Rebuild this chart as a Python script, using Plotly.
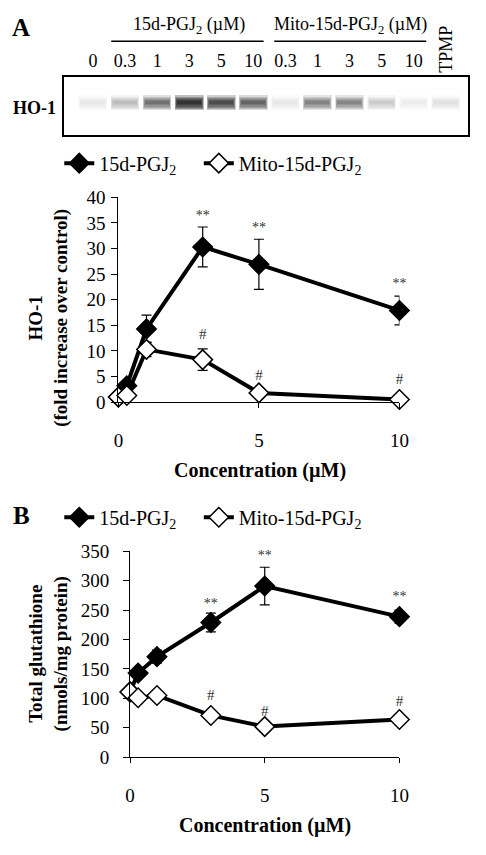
import plotly.graph_objects as go

FONT = "Liberation Serif"

# ---------------- data ----------------
conc = [0, 0.3, 1, 3, 5, 10]

# Panel A: HO-1 fold increase
ho1_15d = [1.0, 3.2, 14.3, 30.3, 26.9, 17.9]
ho1_15d_err = [0.3, 0.6, 2.7, 3.9, 4.9, 2.8]
ho1_mito = [1.0, 1.3, 10.3, 8.3, 1.8, 0.5]
ho1_mito_err = [0.3, 0.4, 1.4, 2.1, 0.3, 0.2]
ho1_star_x = [3, 5, 10]
ho1_star_y = [36.3, 34.0, 23.0]
ho1_hash_x = [3, 5, 10]
ho1_hash_y = [13.0, 5.0, 4.3]

# Panel B: total glutathione
gsh_15d = [111, 143, 171, 229, 291, 239]
gsh_15d_err = [6, 8, 11, 16, 32, 11]
gsh_mito = [111, 101, 105, 71, 52, 64]
gsh_mito_err = [5, 4, 4, 4, 3, 9]
gsh_star_x = [3, 5, 10]
gsh_star_y = [259, 342, 271]
gsh_hash_x = [3, 5, 10]
gsh_hash_y = [104, 77, 93]

# Western blot lanes
lane_labels = ["0", "0.3", "1", "3", "5", "10", "0.3", "1", "3", "5", "10", "TPMP"]
band_intensity = [0.06, 0.2, 0.5, 1.0, 0.75, 0.58, 0.06, 0.42, 0.4, 0.13, 0.05, 0.07]

fig = go.Figure()

# ---------------- blot ----------------
lanes = list(range(len(lane_labels)))
band_center = 0.55
layers = [(0.26, 0.9), (0.21, 0.87), (0.17, 0.84), (0.13, 0.81), (0.09, 0.78), (0.05, 0.75)]
for h, w in layers:
    fig.add_trace(go.Bar(
        x=lanes, y=[h] * len(lanes), base=[band_center - h / 2] * len(lanes),
        width=w,
        marker=dict(color=[f"rgba(10,10,10,{0.26 * a:.3f})" for a in band_intensity],
                    line=dict(width=0)),
        xaxis="x3", yaxis="y3", showlegend=False, hoverinfo="skip"))


def series(x, y, err, filled, name, xa, ya, legend):
    return go.Scatter(
        x=x, y=y, mode="lines+markers", name=name, cliponaxis=False,
        line=dict(color="black", width=4),
        marker=dict(symbol="diamond", size=15,
                    color="black" if filled else "white",
                    line=dict(color="black", width=1.5)),
        error_y=dict(type="data", array=err, visible=True, color="black",
                     thickness=1.2, width=5),
        xaxis=xa, yaxis=ya, legend=legend)


fig.add_trace(series(conc, ho1_15d, ho1_15d_err, True, "15d-PGJ<sub>2</sub>", "x", "y", "legend"))
fig.add_trace(series(conc, ho1_mito, ho1_mito_err, False, "Mito-15d-PGJ<sub>2</sub>", "x", "y", "legend2"))
fig.add_trace(series(conc, gsh_15d, gsh_15d_err, True, "15d-PGJ<sub>2</sub>", "x2", "y2", "legend3"))
fig.add_trace(series(conc, gsh_mito, gsh_mito_err, False, "Mito-15d-PGJ<sub>2</sub>", "x2", "y2", "legend4"))


def marks(x, y, sym, size, xa, ya):
    return go.Scatter(x=x, y=y, mode="text", text=[sym] * len(x), cliponaxis=False,
                      textfont=dict(family=FONT, size=size, color="#333"),
                      xaxis=xa, yaxis=ya, showlegend=False, hoverinfo="skip")


fig.add_trace(marks(ho1_star_x, ho1_star_y, "**", 14, "x", "y"))
fig.add_trace(marks(ho1_hash_x, ho1_hash_y, "#", 15, "x", "y"))
fig.add_trace(marks(gsh_star_x, gsh_star_y, "**", 14, "x2", "y2"))
fig.add_trace(marks(gsh_hash_x, gsh_hash_y, "#", 15, "x2", "y2"))

W, H = 486, 855


def px_x(p):
    return p / W


def px_y(p):
    return 1 - p / H


tickfont = dict(family=FONT, size=19, color="black")
xcommon = dict(range=[0, 10], tickvals=[0, 5, 10], ticks="outside", ticklen=5,
               tickcolor="black", showline=True, linecolor="black", linewidth=1,
               showgrid=False, zeroline=False, tickfont=tickfont, ticklabelstandoff=16)
ycommon = dict(ticks="outside", ticklen=6, tickcolor="black", showline=True,
               linecolor="black", linewidth=1, showgrid=False, zeroline=False,
               tickfont=tickfont)
legfont = dict(family=FONT, size=20, color="black")


def leg(xp, yp):
    return dict(orientation="h", x=px_x(xp), y=px_y(yp), xanchor="left", yanchor="middle",
                font=legfont, bgcolor="rgba(0,0,0,0)", itemclick=False)


fig.update_layout(
    width=W, height=H, margin=dict(l=0, r=0, t=0, b=0),
    paper_bgcolor="white", plot_bgcolor="white",
    barmode="overlay", bargap=0,
    font=dict(family=FONT, color="black"),
    xaxis=dict(domain=[px_x(117), px_x(407)], anchor="y", **xcommon),
    yaxis=dict(domain=[px_y(402), px_y(192)], anchor="x", range=[0, 40], dtick=5,
               ticklabelstandoff=2, **ycommon),
    xaxis2=dict(domain=[px_x(129), px_x(407)], anchor="y2", **xcommon),
    yaxis2=dict(domain=[px_y(766), px_y(555)], anchor="x2", range=[0, 350], dtick=50,
                ticklabelstandoff=10, **ycommon),
    xaxis3=dict(domain=[px_x(61), px_x(478)], anchor="y3", range=[-0.9, 11.7],
                side="top", tickvals=lanes[:-1], ticktext=lane_labels[:-1],
                ticks="", showline=True, mirror=True, linecolor="black", linewidth=2,
                showgrid=False, zeroline=False, ticklabelstandoff=1,
                tickfont=dict(family=FONT, size=18, color="black")),
    yaxis3=dict(domain=[px_y(128), px_y(69)], anchor="x3", range=[0, 1],
                showticklabels=False, ticks="", showline=True, mirror=True,
                linecolor="black", linewidth=2, showgrid=False, zeroline=False),
    legend=leg(56, 157),
    legend2=leg(200, 157),
    legend3=leg(56, 520),
    legend4=leg(200, 520),
)

# header lines over blot groups
fig.add_shape(type="line", xref="x3", yref="paper", x0=0.57, x1=5.32,
              y0=px_y(32), y1=px_y(32), line=dict(color="black", width=1.5))
fig.add_shape(type="line", xref="x3", yref="paper", x0=5.65, x1=10.39,
              y0=px_y(32), y1=px_y(32), line=dict(color="black", width=1.5))

ann = [
    dict(text="<b>A</b>", x=px_x(17), y=px_y(18), size=25),
    dict(text="<b>B</b>", x=px_x(17), y=px_y(518), size=25),
    dict(text="15d-PGJ<sub>2</sub> (µM)", x=px_x(190), y=px_y(16), size=18),
    dict(text="Mito-15d-PGJ<sub>2</sub> (µM)", x=px_x(357), y=px_y(16), size=18),
    dict(text="<b>HO-1</b>", x=px_x(30), y=px_y(100), size=18),
    dict(text="<b>Concentration (µM)</b>", x=px_x(263), y=px_y(472), size=20),
    dict(text="<b>Concentration (µM)</b>", x=px_x(268), y=px_y(836), size=20),
]
for a in ann:
    fig.add_annotation(text=a["text"], x=a["x"], y=a["y"], xref="paper", yref="paper",
                       showarrow=False, xanchor="center", yanchor="middle",
                       font=dict(family=FONT, size=a["size"], color="black"))

fig.add_annotation(text="TPMP", x=lanes[-1], y=px_y(40), xref="x3", yref="paper",
                   textangle=-90, showarrow=False, xanchor="center", yanchor="middle",
                   font=dict(family=FONT, size=18, color="black"))

# y-axis titles (rotated)
fig.add_annotation(text="<b>HO-1<br>(fold increase over control)</b>", x=px_x(45),
                   y=px_y(316), xref="paper", yref="paper", textangle=-90, showarrow=False,
                   xanchor="center", yanchor="middle",
                   font=dict(family=FONT, size=19, color="black"))
fig.add_annotation(text="<b>Total glutathione<br>(nmols/mg protein)</b>", x=px_x(45),
                   y=px_y(660), xref="paper", yref="paper", textangle=-90, showarrow=False,
                   xanchor="center", yanchor="middle",
                   font=dict(family=FONT, size=19, color="black"))

fig.write_html("out.html", config={"displayModeBar": False},
               post_script="document.body.style.margin='0';document.body.style.overflow='hidden';")
